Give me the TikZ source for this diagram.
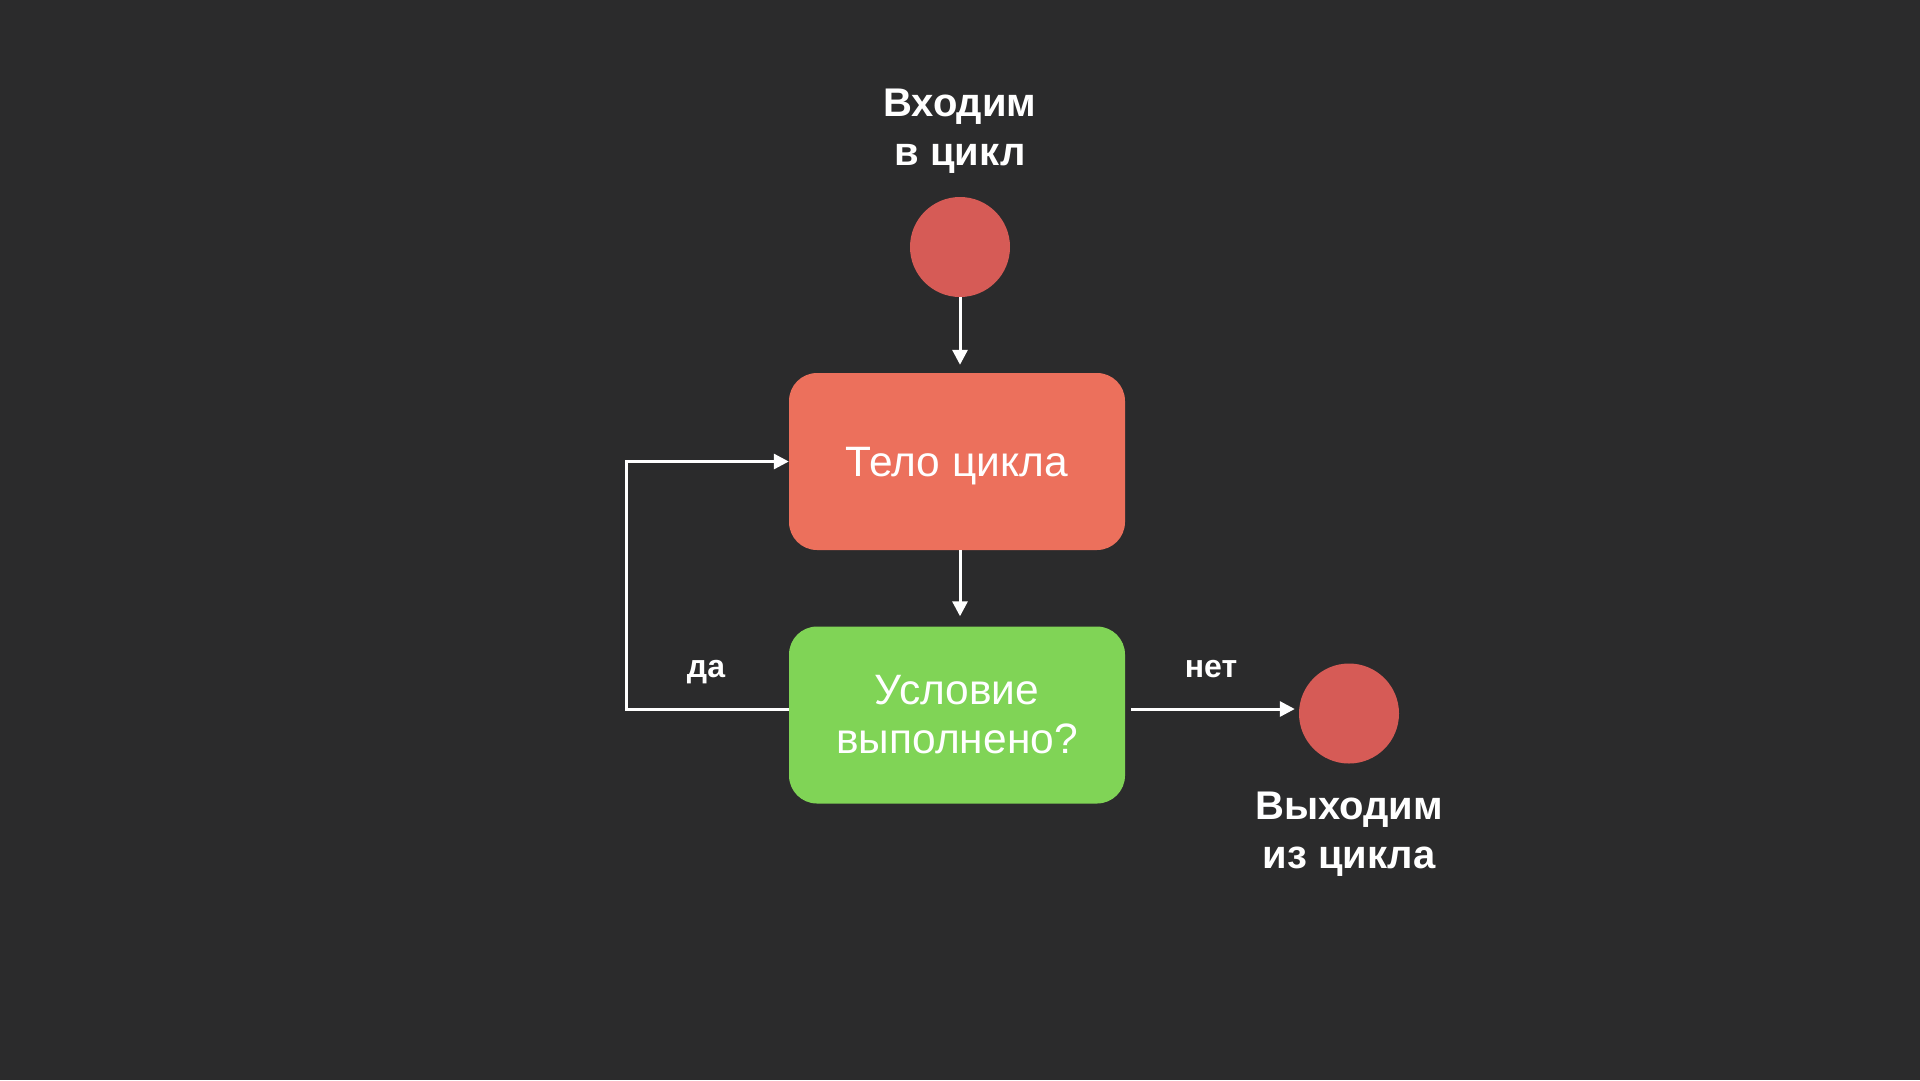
\documentclass[tikz,border=0pt]{standalone}
\usepackage{fontspec}
\setmainfont{Liberation Sans}
\usetikzlibrary{arrows.meta}
\definecolor{bg}{RGB}{43,43,44}
\definecolor{dotred}{RGB}{214,91,86}
\definecolor{boxred}{RGB}{236,112,92}
\definecolor{boxgreen}{RGB}{128,212,86}
\begin{document}
\begin{tikzpicture}[x=1pt,y=-1pt,
  dot/.style={circle, fill=dotred, minimum size=100pt, inner sep=0pt},
  block/.style={rounded corners=28pt, minimum width=336pt, minimum height=177pt, text=white, font=\fontsize{42.5}{49}\selectfont, align=center, inner sep=0pt},
  head/.style={text=white, font=\bfseries\fontsize{40}{49}\selectfont, align=center, inner sep=0pt},
  lbl/.style={text=white, font=\bfseries\fontsize{32}{37}\selectfont, inner sep=0pt},
  conn/.style={white, line width=3pt, -{Triangle[length=15pt,width=15pt]}}]
\fill[bg] (0,0) rectangle (1920,1080);
\useasboundingbox (0,0) rectangle (1920,1080);
\node[dot] (start) at (960,247) {};
\node[head] (intxt) at (960,131) {Входим\\в цикл};
\node[block, fill=boxred, text depth=0pt] (body) at (957,461.5) {Тело цикла};
\node[block, fill=boxgreen] (cond) at (957,715) {Условие\\выполнено?};
\node[dot] (exit) at (1349,713.5) {};
\node[head] (outtxt) at (1349,834.5) {Выходим\\из цикла};
\node[lbl, anchor=base] (yes) at (706,677) {да};
\node[lbl, anchor=base] (no) at (1211,677) {нет};
\draw[conn, shorten >=8pt] (start.south) -- (start.south |- body.north);
\draw[conn, shorten >=10pt] (body.south -| start.south) -- (cond.north -| start.south);
\draw[conn] ([yshift=6pt]cond.west) -- ++(-162,0) |- (body.west);
\draw[conn, shorten <=6pt, shorten >=4pt] ([yshift=6pt]cond.east) -- ([yshift=6pt]cond.east -| exit.west);
\end{tikzpicture}
\end{document}
